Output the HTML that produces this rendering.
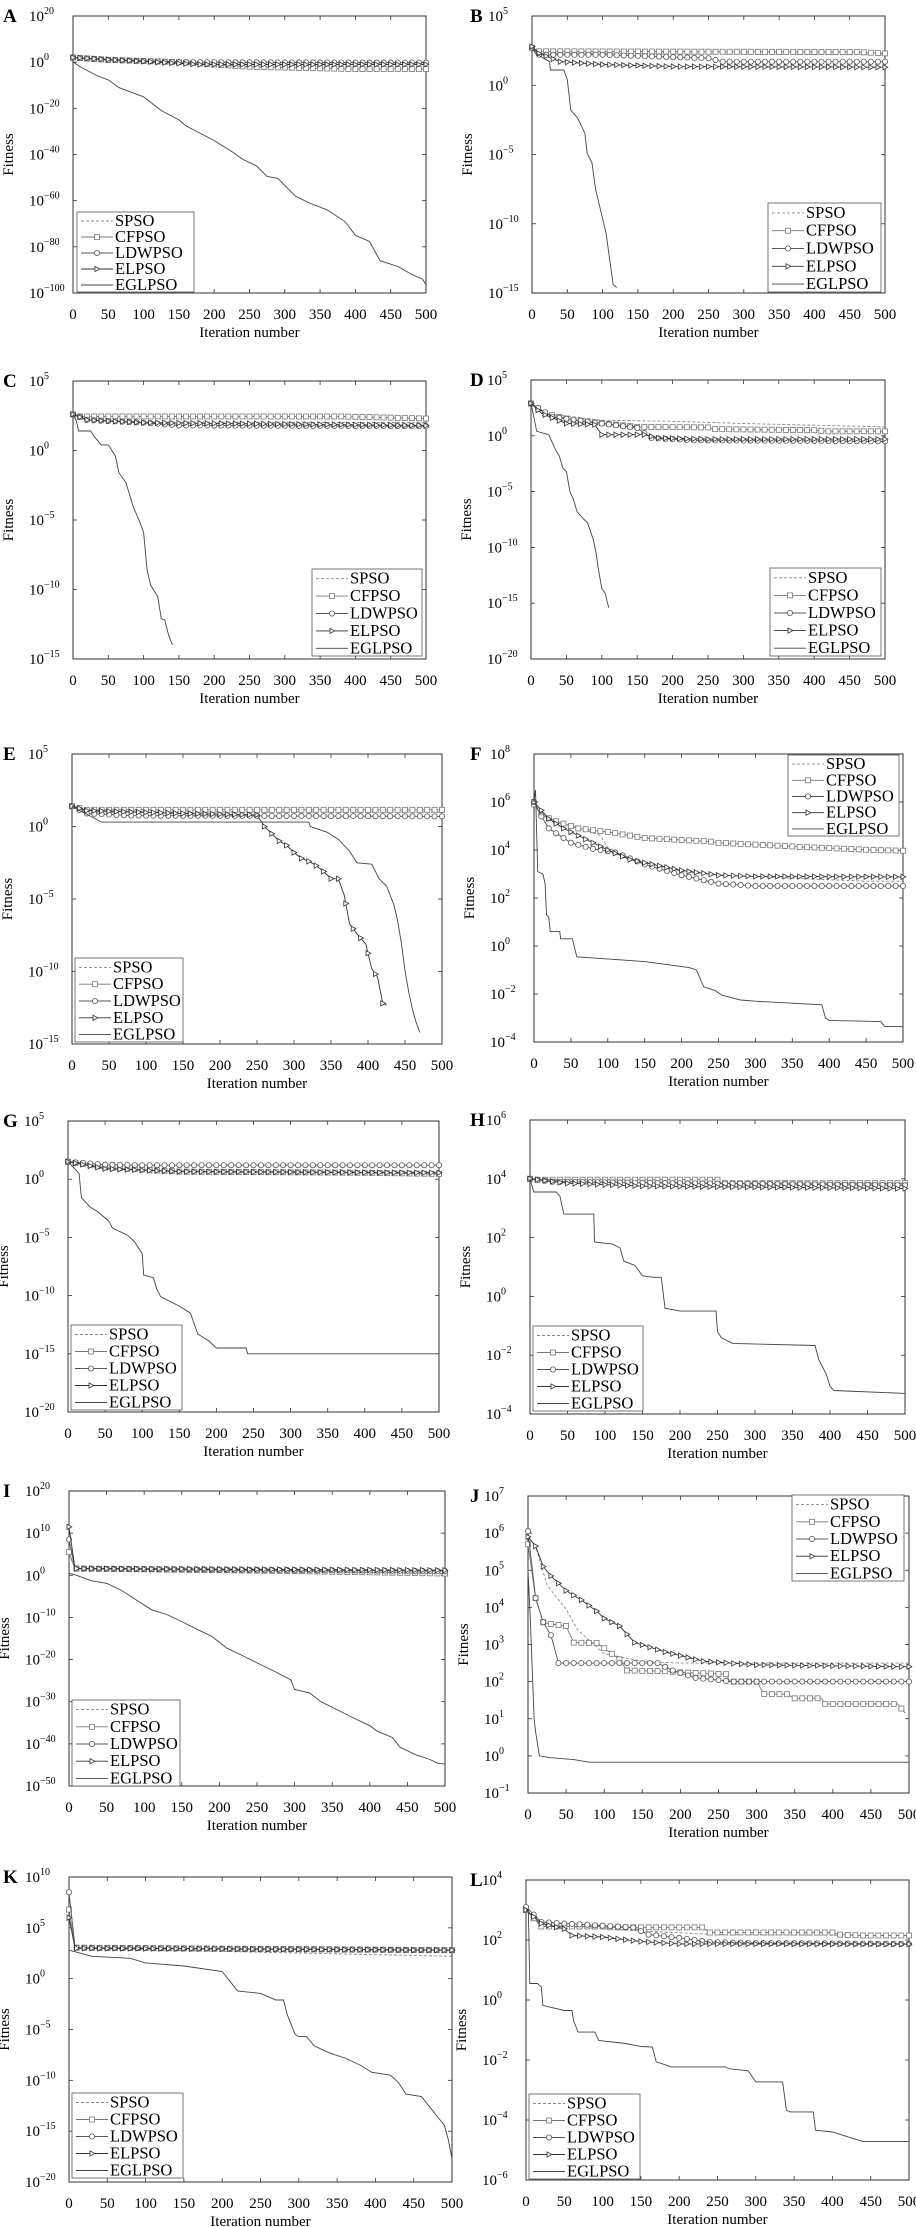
<!DOCTYPE html>
<html><head><meta charset="utf-8">
<style>
html,body{margin:0;padding:0;background:#fff;}
svg{display:block;font-family:"Liberation Serif",serif;}
</style></head>
<body>
<svg id="fig" width="916" height="2227" viewBox="0 0 916 2227" xmlns="http://www.w3.org/2000/svg"></svg>
<script>
// ---- Data: [iteration, log10(fitness)] ----
const A_spso=[[0,2],[50,1],[200,0],[500,-0.5]];
const A_cf=[[0,2],[50,1],[150,0],[250,-2],[400,-3],[500,-3]];
const A_ldw=[[0,2],[50,1],[150,0],[500,-0.2]];
const A_el=[[0,2],[60,1],[180,-1],[500,-1]];
const A_egl=[[0,0.2],[10,-2],[35,-6],[50,-7.7],[65,-11],[100,-15],[125,-21],[150,-25],[160,-27.6],[175,-30],[200,-34],[225,-38.7],[240,-42],[260,-45],[275,-49.5],[290,-50.3],[315,-58],[335,-61],[360,-64],[385,-69],[400,-75],[420,-77.7],[435,-86],[460,-88.5],[480,-92],[495,-94],[500,-96.5]];

const B_spso=[[0,2.7],[10,2.3],[500,2.2]];
const B_cf=[[0,2.7],[10,2.45],[460,2.4],[500,2.3]];
const B_ldw=[[0,2.7],[10,2.2],[100,2.2],[250,1.95],[270,1.7],[500,1.7]];
const B_el=[[0,2.8],[10,2.3],[40,1.7],[100,1.5],[200,1.35],[500,1.3]];
const B_egl=[[0,2.7],[5,2.3],[25,1.7],[26,1.1],[45,1.1],[50,0.4],[55,-1.8],[65,-2.4],[75,-3.5],[78,-4.9],[85,-5.6],[90,-7.5],[98,-9.2],[105,-10.7],[110,-12.6],[115,-14.4],[120,-14.6]];

const C_spso=[[0,2.6],[20,2.2],[100,2.05],[500,2.0]];
const C_cf=[[0,2.6],[10,2.45],[380,2.45],[500,2.3]];
const C_ldw=[[0,2.6],[20,2.2],[100,2.0],[150,1.8],[500,1.75]];
const C_el=[[0,2.6],[20,2.2],[100,2.0],[300,1.9],[500,1.8]];
const C_egl=[[0,2.6],[5,2.1],[8,1.4],[25,1.4],[30,1.0],[40,0.4],[50,0.4],[60,-0.4],[65,-1.6],[75,-2.3],[85,-4],[95,-5.2],[100,-5.9],[105,-8.6],[110,-9.7],[120,-10.5],[125,-12.1],[130,-12.2],[135,-13.2],[140,-13.9],[142,-13.95]];

const D_spso=[[0,2.9],[20,2.0],[100,1.4],[200,1.3],[300,1.1],[500,0.8]];
const D_cf=[[0,2.9],[20,2.0],[60,1.4],[150,0.8],[250,0.75],[260,0.6],[400,0.5],[420,0.4],[500,0.4]];
const D_ldw=[[0,2.9],[30,1.7],[100,1.1],[150,0.7],[170,-0.2],[230,-0.4],[500,-0.5]];
const D_el=[[0,2.9],[15,2.0],[50,1.1],[90,1.0],[100,0.1],[160,0.1],[180,-0.2],[250,-0.3],[500,-0.3]];
const D_egl=[[0,2.9],[5,1.4],[8,0.4],[25,0.1],[35,-1.3],[40,-1.8],[45,-2.9],[50,-3.2],[55,-5.0],[60,-5.7],[65,-6.8],[75,-7.5],[80,-7.8],[88,-9.3],[92,-10.5],[95,-11.9],[100,-13.7],[105,-14.1],[108,-15],[110,-15.4]];

const E_spso=[[0,1.4],[20,1.0],[500,1.0]];
const E_cf=[[0,1.4],[20,1.15],[500,1.15]];
const E_ldw=[[0,1.4],[20,0.9],[80,0.75],[500,0.7]];
const E_el=[[0,1.4],[20,1.1],[150,0.9],[250,0.8],[260,0.0],[270,-0.5],[280,-1.0],[290,-1.3],[300,-1.8],[310,-2.2],[320,-2.4],[330,-2.7],[340,-3.1],[350,-3.6],[360,-3.6],[368,-4.75],[375,-6.7],[385,-7.4],[397,-8.1],[405,-9.8],[413,-10.4],[420,-12.2],[425,-12.3]];
const E_egl=[[0,1.4],[10,1.1],[20,0.85],[40,0.3],[320,0.3],[322,0.0],[345,-0.4],[360,-0.9],[375,-1.7],[385,-2.5],[405,-2.6],[415,-3.6],[425,-4.1],[435,-5.4],[440,-6.5],[445,-8.0],[450,-9.95],[455,-11.4],[460,-12.6],[465,-13.5],[470,-14.2]];

const F_spso=[[0,6.0],[10,5.5],[30,5.1],[50,5.05],[90,4.6],[100,4.1],[130,3.65],[200,3.1],[250,2.95],[450,2.7],[500,2.7]];
const F_cf=[[0,5.9],[10,5.45],[30,5.2],[60,4.9],[100,4.75],[140,4.55],[150,4.5],[240,4.35],[250,4.3],[350,4.15],[360,4.13],[460,4.0],[500,3.97]];
const F_ldw=[[0,6.0],[10,5.4],[20,4.9],[50,4.3],[80,4.05],[110,3.9],[150,3.4],[200,2.95],[250,2.6],[300,2.5],[500,2.5]];
const F_el=[[0,6.0],[20,5.3],[40,4.9],[100,4.0],[130,3.6],[200,3.15],[250,2.95],[300,2.9],[500,2.88]];
const F_egl=[[0,6.0],[2,6.5],[5,3.1],[12,3.0],[15,2.6],[17,1.3],[20,1.2],[22,0.6],[35,0.6],[36,0.3],[52,0.3],[58,-0.45],[150,-0.65],[210,-0.9],[220,-1.0],[230,-1.7],[245,-1.85],[255,-2.05],[280,-2.25],[300,-2.3],[390,-2.45],[395,-3.0],[400,-3.1],[470,-3.15],[475,-3.35],[500,-3.35]];

const G_spso=[[0,1.5],[50,0.9],[150,0.7],[500,0.6]];
const G_cf=[[0,1.5],[50,1.0],[150,0.65],[400,0.55],[500,0.45]];
const G_ldw=[[0,1.5],[50,1.25],[100,1.2],[500,1.2]];
const G_el=[[0,1.5],[50,0.9],[150,0.65],[500,0.55]];
const G_egl=[[0,1.5],[15,0.5],[18,-1.6],[30,-2.4],[40,-2.8],[55,-3.6],[60,-4.2],[80,-4.8],[90,-5.4],[100,-6.4],[102,-8.25],[115,-8.45],[120,-9.5],[125,-10.1],[150,-10.9],[165,-11.5],[175,-13.3],[190,-13.9],[200,-14.5],[240,-14.5],[242,-15.0],[500,-15.0]];

const H_spso=[[0,4.0],[50,3.9],[500,3.82]];
const H_cf=[[0,4.0],[10,3.97],[250,3.97],[255,3.85],[500,3.85]];
const H_ldw=[[0,4.0],[30,3.9],[200,3.85],[500,3.78]];
const H_el=[[0,4.0],[50,3.85],[150,3.75],[500,3.67]];
const H_egl=[[0,4.0],[5,3.55],[35,3.55],[40,3.4],[45,2.8],[85,2.8],[86,1.85],[110,1.78],[120,1.65],[125,1.2],[140,1.05],[150,0.7],[165,0.65],[175,0.65],[180,-0.4],[200,-0.5],[248,-0.5],[250,-1.2],[255,-1.4],[270,-1.6],[380,-1.67],[385,-2.15],[395,-2.65],[400,-3.05],[405,-3.2],[500,-3.3]];

const I_spso=[[0,5],[8,1.6],[500,1.2]];
const I_cf=[[0,5.5],[8,1.6],[300,1.0],[500,0.4]];
const I_ldw=[[0,8.5],[8,1.6],[500,1.0]];
const I_el=[[0,11.5],[8,1.6],[500,1.2]];
const I_egl=[[0,0.5],[10,0],[30,-1.3],[50,-1.9],[70,-3.6],[90,-5.9],[110,-8.2],[130,-9.3],[150,-11],[170,-12.8],[190,-14.5],[210,-17.3],[230,-19],[250,-20.8],[270,-22.5],[295,-24.8],[300,-27.1],[320,-27.9],[335,-30],[360,-32.2],[380,-34],[400,-35.7],[410,-37],[430,-38.5],[440,-40.8],[460,-42.5],[480,-43.7],[490,-44.6],[500,-44.8]];

const J_spso=[[0,5.9],[10,5.65],[25,4.6],[50,3.95],[65,3.4],[100,2.75],[150,2.55],[200,2.5],[500,2.5]];
const J_cf=[[0,5.7],[10,4.25],[20,3.6],[30,3.55],[50,3.5],[60,3.05],[90,3.04],[100,2.9],[120,2.6],[130,2.3],[180,2.28],[200,2.25],[260,2.2],[265,2.0],[300,2.0],[310,1.67],[340,1.66],[350,1.55],[385,1.55],[390,1.4],[485,1.4],[495,1.15]];
const J_ldw=[[0,6.05],[10,4.25],[20,3.6],[30,3.25],[40,2.5],[170,2.5],[190,2.3],[220,2.1],[270,2.0],[500,2.0]];
const J_el=[[0,5.9],[10,5.65],[20,5.1],[30,4.85],[50,4.45],[70,4.2],[90,3.9],[100,3.7],[120,3.5],[140,3.05],[180,2.8],[230,2.55],[300,2.45],[500,2.4]];
const J_egl=[[0,5.0],[3,3.7],[8,1.0],[10,0.65],[15,0.0],[30,-0.05],[60,-0.1],[80,-0.17],[500,-0.17]];

const K_spso=[[0,6],[8,3.0],[500,2.2]];
const K_cf=[[0,6.8],[8,3.05],[500,2.8]];
const K_ldw=[[0,8.5],[8,3.05],[500,2.8]];
const K_el=[[0,6.0],[8,3.0],[500,2.8]];
const K_egl=[[0,2.8],[10,2.6],[30,2.2],[80,2.0],[100,1.55],[150,1.25],[200,0.7],[210,-0.25],[220,-1.2],[250,-1.45],[270,-2.1],[280,-2.1],[285,-3.55],[295,-5.45],[300,-5.7],[310,-5.7],[320,-6.6],[340,-7.3],[360,-7.8],[380,-8.5],[395,-9.2],[420,-9.5],[430,-10.2],[440,-11.35],[460,-11.6],[475,-13.0],[480,-13.5],[490,-14.4],[495,-15.8],[500,-17.7]];

const L_spso=[[0,3.0],[20,2.5],[150,2.3],[250,2.18],[500,2.15]];
const L_cf=[[0,3.0],[20,2.45],[100,2.45],[110,2.42],[230,2.42],[240,2.25],[400,2.25],[410,2.18],[440,2.15],[500,2.15]];
const L_ldw=[[0,3.1],[20,2.6],[50,2.55],[140,2.42],[160,2.18],[200,2.07],[240,1.93],[300,1.9],[500,1.87]];
const L_el=[[0,3.0],[20,2.55],[50,2.37],[60,2.15],[100,2.1],[150,1.95],[200,1.87],[500,1.86]];
const L_egl=[[0,3.0],[3,3.0],[5,0.55],[15,0.55],[20,0.43],[22,-0.18],[50,-0.35],[60,-0.35],[62,-0.68],[68,-1.07],[90,-1.07],[95,-1.35],[130,-1.45],[150,-1.55],[165,-1.57],[170,-2.06],[190,-2.23],[260,-2.23],[265,-2.29],[290,-2.36],[300,-2.73],[335,-2.73],[340,-3.67],[345,-3.73],[375,-3.73],[378,-4.34],[400,-4.4],[420,-4.56],[440,-4.72],[500,-4.72]];

const xTicks=[0,50,100,150,200,250,300,350,400,450,500];
const seriesNames=["SPSO","CFPSO","LDWPSO","ELPSO","EGLPSO"];

// ---- layout (not data) ----
const panels=[
 {id:'A',col:0,x0:73,x1:426,y0:16,y1:293,ymin:-100,ymax:20,step:20,leg:[77,212,117,80],d:[A_spso,A_cf,A_ldw,A_el,A_egl]},
 {id:'B',col:1,x0:532,x1:885,y0:16,y1:293,ymin:-15,ymax:5,step:5,leg:[768,203,113,89],d:[B_spso,B_cf,B_ldw,B_el,B_egl]},
 {id:'C',col:0,x0:73,x1:426,y0:381,y1:659,ymin:-15,ymax:5,step:5,leg:[312,569,110,87],d:[C_spso,C_cf,C_ldw,C_el,C_egl]},
 {id:'D',col:1,x0:531,x1:885,y0:380,y1:659,ymin:-20,ymax:5,step:5,leg:[770,568,111,88],d:[D_spso,D_cf,D_ldw,D_el,D_egl]},
 {id:'E',col:0,x0:72,x1:442,y0:754,y1:1044,ymin:-15,ymax:5,step:5,leg:[75,958,108,84],d:[E_spso,E_cf,E_ldw,E_el,E_egl]},
 {id:'F',col:1,x0:534,x1:903,y0:754,y1:1042,ymin:-4,ymax:8,step:2,leg:[788,755,111,81],d:[F_spso,F_cf,F_ldw,F_el,F_egl]},
 {id:'G',col:0,x0:68,x1:439,y0:1121,y1:1412,ymin:-20,ymax:5,step:5,leg:[71,1325,111,85],d:[G_spso,G_cf,G_ldw,G_el,G_egl]},
 {id:'H',col:1,x0:530,x1:905,y0:1120,y1:1414,ymin:-4,ymax:6,step:2,leg:[533,1326,110,85],d:[H_spso,H_cf,H_ldw,H_el,H_egl]},
 {id:'I',col:0,x0:69,x1:445,y0:1491,y1:1786,ymin:-50,ymax:20,step:10,leg:[72,1700,108,86],d:[I_spso,I_cf,I_ldw,I_el,I_egl]},
 {id:'J',col:1,x0:528,x1:909,y0:1496,y1:1793,ymin:-1,ymax:7,step:1,leg:[792,1495,112,86],d:[J_spso,J_cf,J_ldw,J_el,J_egl]},
 {id:'K',col:0,x0:69,x1:452,y0:1877,y1:2182,ymin:-20,ymax:10,step:5,leg:[72,2093,111,85],d:[K_spso,K_cf,K_ldw,K_el,K_egl]},
 {id:'L',col:1,x0:526,x1:909,y0:1880,y1:2180,ymin:-6,ymax:4,step:2,leg:[529,2094,111,85],d:[L_spso,L_cf,L_ldw,L_el,L_egl]}
];
const styles=[
 {stroke:'#888',dash:'3,2',marker:null},
 {stroke:'#777',dash:null,marker:'square'},
 {stroke:'#555',dash:null,marker:'circle'},
 {stroke:'#333',dash:null,marker:'tri'},
 {stroke:'#444',dash:null,marker:null}
];

const NS='http://www.w3.org/2000/svg';
const svg=document.getElementById('fig');
function mk(tag,attrs,parent){const e=document.createElementNS(NS,tag);for(const k in attrs)e.setAttribute(k,attrs[k]);(parent||svg).appendChild(e);return e;}
function xs(p,it){return p.x0+it/500*(p.x1-p.x0);}
function ys(p,v){return p.y1-(v-p.ymin)/(p.ymax-p.ymin)*(p.y1-p.y0);}
function interp(d,it){for(let i=1;i<d.length;i++){if(it<=d[i][0]){const a=d[i-1],b=d[i];const t=(b[0]===a[0])?1:(it-a[0])/(b[0]-a[0]);return a[1]+t*(b[1]-a[1]);}}return d[d.length-1][1];}
function drawMarker(g,type,x,y,col){
  let m;
  if(type==='square'){m=mk('rect',{x:x-2.5,y:y-2.5,width:5,height:5,fill:'#fff',stroke:col,'stroke-width':0.8},g);}
  else if(type==='circle'){m=mk('circle',{cx:x,cy:y,r:2.6,fill:'#fff',stroke:col,'stroke-width':0.8},g);}
  else {m=mk('path',{d:`M${x-2},${y-2.6}L${x+2.8},${y}L${x-2},${y+2.6}Z`,fill:'#fff',stroke:col,'stroke-width':0.8},g);}
  
  
}

panels.forEach(p=>{
  const g=mk('g',{});
  
  
  const lt=mk('text',{x:p.col===0?3:470,y:p.y0+6,'font-size':19,'font-weight':'bold'},g);
  lt.textContent=p.id;
  
  
  const box=mk('rect',{x:p.x0,y:p.y0,width:p.x1-p.x0,height:p.y1-p.y0,fill:'#fff',stroke:'#333','stroke-width':1},g);
  
  
  xTicks.forEach(t=>{
    const x=xs(p,t);
    mk('line',{x1:x,y1:p.y1,x2:x,y2:p.y1-4,stroke:'#333','stroke-width':0.8},g);
    mk('line',{x1:x,y1:p.y0,x2:x,y2:p.y0+4,stroke:'#333','stroke-width':0.8},g);
    const tx=mk('text',{x:x,y:p.y1+26,'font-size':15,'text-anchor':'middle'},g);
    tx.textContent=String(t);
    
    
  });
  for(let v=p.ymin;v<=p.ymax;v+=p.step){
    const y=ys(p,v);
    mk('line',{x1:p.x0,y1:y,x2:p.x0+4,y2:y,stroke:'#333','stroke-width':0.8},g);
    mk('line',{x1:p.x1,y1:y,x2:p.x1-4,y2:y,stroke:'#333','stroke-width':0.8},g);
    const ty=mk('text',{x:p.x0-44,y:y+5,'font-size':15},g);
    
    
    const b=mk('tspan',{},ty);b.textContent='10';
    const s=mk('tspan',{dy:-7,'font-size':10},ty);s.textContent=(v<0?'\u2212'+(-v):String(v));
  }
  const xt=mk('text',{x:(p.x0+p.x1)/2,y:p.y1+44,'font-size':15,'text-anchor':'middle'},g);
  xt.textContent='Iteration number';
  
  
  const cy=(p.y0+p.y1)/2, cx=p.x0-60;
  const yt=mk('text',{x:cx,y:cy,'font-size':15,'text-anchor':'middle',transform:`rotate(-90 ${cx} ${cy})`},g);
  yt.textContent='Fitness';
  
  
  p.d.forEach((d,si)=>{
    const st=styles[si];
    const pts=d.map(q=>xs(p,q[0]).toFixed(1)+','+ys(p,q[1]).toFixed(1)).join(' ');
    const pl=mk('polyline',{points:pts,fill:'none',stroke:st.stroke,'stroke-width':0.9},g);
    if(st.dash)pl.setAttribute('stroke-dasharray',st.dash);
    
    
    if(st.marker){
      const last=d[d.length-1][0];
      for(let it=0;it<=last;it+=10){drawMarker(g,st.marker,xs(p,it),ys(p,interp(d,it)),st.stroke);}
    }
  });
  const [lx,ly,lw,lh]=p.leg;
  const lg=mk('g',{},g);
  
  
  mk('rect',{x:lx,y:ly,width:lw,height:lh,fill:'#fff',stroke:'#555','stroke-width':0.8},lg);
  const rowH=lh/5;
  seriesNames.forEach((n,i)=>{
    const ry=ly+rowH*(i+0.5)+1;
    const st=styles[i];
    const ln=mk('line',{x1:lx+4,y1:ry,x2:lx+36,y2:ry,stroke:st.stroke,'stroke-width':0.9},lg);
    if(st.dash)ln.setAttribute('stroke-dasharray',st.dash);
    if(st.marker)drawMarker(lg,st.marker,lx+20,ry,st.stroke);
    const t=mk('text',{x:lx+38,y:ry+5,'font-size':16.5},lg);
    t.textContent=n;
    
    
  });
});
</script>
</body></html>
